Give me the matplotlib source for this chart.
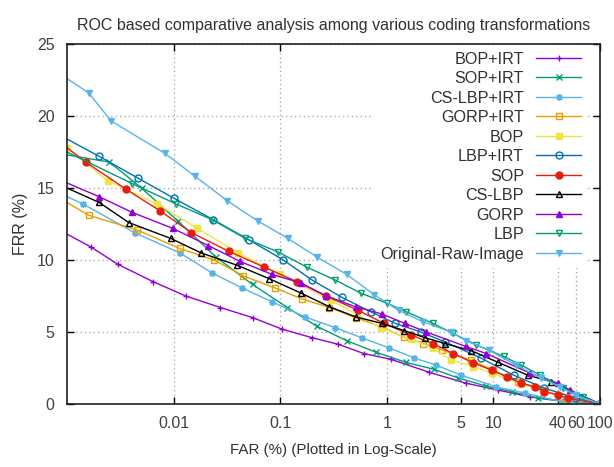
import numpy as np
import matplotlib
matplotlib.use('Agg')
from matplotlib import pyplot as plt
from matplotlib.ticker import FixedLocator, FixedFormatter, NullLocator
from matplotlib.patches import Rectangle

plt.rcParams['font.family'] = ['Liberation Sans', 'DejaVu Sans']

# Series values (FAR in %, FRR in %)
bop_irt_far = [0.001, 0.00168, 0.003, 0.0064, 0.013, 0.0275, 0.055, 0.104, 0.2, 0.35, 0.61, 1.1, 2.5, 5.5, 11, 22, 45, 100]
bop_irt_frr = [11.8, 10.9, 9.7, 8.5, 7.5, 6.7, 6.0, 5.2, 4.6, 4.15, 3.5, 3.1, 2.2, 1.45, 0.97, 0.5, 0.2, 0]

sop_irt_far = [0.001, 0.0025, 0.005, 0.011, 0.025, 0.055, 0.117, 0.22, 0.42, 0.79, 1.5, 2.8, 4.7, 8.5, 15, 26, 50, 100]
sop_irt_frr = [17.3, 16.8, 15.0, 12.7, 10.2, 8.3, 6.7, 5.4, 4.4, 3.6, 2.9, 2.4, 1.8, 1.25, 0.85, 0.4, 0.15, 0]

cslbp_irt_far = [0.001, 0.0014, 0.0043, 0.0114, 0.023, 0.044, 0.084, 0.17, 0.33, 0.58, 1.05, 1.8, 2.9, 5.0, 10.5, 20, 44, 100]
cslbp_irt_frr = [14.4, 13.9, 11.9, 10.5, 9.1, 8.05, 7.1, 6.05, 5.3, 4.6, 3.9, 3.2, 2.7, 2.0, 1.2, 0.75, 0.15, 0]

gorp_irt_far = [0.001, 0.0016, 0.0045, 0.0114, 0.024, 0.045, 0.09, 0.16, 0.29, 0.51, 0.9, 1.44, 2.2, 3.3, 6.1, 10, 17, 29, 44, 100]
gorp_irt_frr = [14.0, 13.1, 12.1, 10.8, 10.0, 8.9, 8.05, 7.3, 6.7, 6.0, 5.35, 4.65, 4.2, 3.75, 3.05, 2.35, 1.55, 0.97, 0.5, 0]

bop_far = [0.001, 0.0024, 0.007, 0.0167, 0.04, 0.1, 0.3, 0.88, 1.68, 2.7, 4.0, 6.5, 9.6, 18, 30, 50, 100]
bop_frr = [17.8, 15.5, 13.9, 12.2, 10.5, 9.0, 7.2, 5.3, 4.5, 3.9, 3.05, 2.6, 2.15, 1.4, 0.9, 0.4, 0]

lbp_irt_far = [0.001, 0.002, 0.0046, 0.01, 0.0235, 0.051, 0.107, 0.2, 0.38, 0.71, 1.2, 2.08, 3.55, 7.6, 15.5, 30, 60, 100]
lbp_irt_frr = [18.4, 17.2, 15.7, 14.3, 12.8, 11.4, 10.0, 8.6, 7.4, 6.4, 5.6, 5.0, 4.3, 3.2, 2.0, 1.1, 0.4, 0]

sop_far = [0.001, 0.0015, 0.0036, 0.0075, 0.0147, 0.033, 0.071, 0.143, 0.27, 0.54, 0.94, 1.68, 2.7, 4.2, 6.5, 9.6, 13.3, 18, 24.6, 30, 40, 50, 100]
sop_frr = [17.8, 16.8, 14.9, 13.4, 11.9, 10.6, 9.5, 8.5, 7.5, 6.5, 5.6, 4.8, 4.2, 3.5, 2.85, 2.35, 1.9, 1.45, 1.2, 0.85, 0.65, 0.4, 0]

cslbp_far = [0.001, 0.002, 0.0038, 0.0094, 0.018, 0.039, 0.079, 0.157, 0.29, 0.51, 0.9, 1.45, 2.3, 3.5, 6.2, 11, 21, 35, 100]
cslbp_frr = [15.0, 14.0, 12.6, 11.5, 10.5, 9.65, 8.7, 7.7, 6.75, 6.05, 5.6, 5.1, 4.6, 4.2, 3.7, 2.9, 2.0, 1.55, 0]

gorp_far = [0.001, 0.002, 0.0041, 0.0098, 0.0212, 0.042, 0.084, 0.157, 0.27, 0.51, 0.9, 1.47, 2.35, 5.5, 8.6, 22, 40, 52, 100]
gorp_frr = [15.35, 14.4, 13.3, 12.2, 11.0, 9.9, 9.0, 8.4, 7.5, 6.75, 6.25, 5.6, 5.0, 4.0, 3.5, 2.15, 1.45, 0.97, 0]

lbp_far = [0.001, 0.0041, 0.0105, 0.023, 0.047, 0.096, 0.178, 0.33, 0.57, 1.0, 1.53, 2.7, 4.2, 6.9, 12.5, 18.2, 27.6, 45, 70, 100]
lbp_frr = [17.5, 15.3, 13.9, 12.8, 11.5, 10.55, 9.5, 8.6, 7.7, 7.0, 6.4, 5.6, 4.9, 4.1, 3.3, 2.7, 2.0, 1.1, 0.5, 0]

raw_far = [0.001, 0.0016, 0.0026, 0.0083, 0.016, 0.032, 0.062, 0.118, 0.222, 0.42, 0.76, 1.29, 2.2, 4.0, 5.5, 9, 16.4, 28, 42, 59, 100]
raw_frr = [22.6, 21.6, 19.65, 17.4, 15.8, 14.1, 12.7, 11.5, 10.2, 9.0, 7.6, 6.5, 5.7, 5.0, 4.4, 3.75, 2.7, 1.8, 1.2, 0.6, 0]

x_ticks = [0.01, 0.1, 1, 5, 10, 40, 60, 100]
x_tick_labels = ['0.01', '0.1', '1', '5', '10', '40', '60', '100']
y_ticks = [0, 5, 10, 15, 20, 25]

# gnuplot default colour / point cycle
series = [
    ('BOP+IRT', bop_irt_far, bop_irt_frr, '#9400d3', '+', True),
    ('SOP+IRT', sop_irt_far, sop_irt_frr, '#009e73', 'x', True),
    ('CS-LBP+IRT', cslbp_irt_far, cslbp_irt_frr, '#56b4e9', (8, 2, 0), True),
    ('GORP+IRT', gorp_irt_far, gorp_irt_frr, '#e69f00', 's', False),
    ('BOP', bop_far, bop_frr, '#f0e442', 's', True),
    ('LBP+IRT', lbp_irt_far, lbp_irt_frr, '#0072b2', 'o', False),
    ('SOP', sop_far, sop_frr, '#e51e10', 'o', True),
    ('CS-LBP', cslbp_far, cslbp_frr, '#000000', '^', False),
    ('GORP', gorp_far, gorp_frr, '#9400d3', '^', True),
    ('LBP', lbp_far, lbp_frr, '#009e73', 'v', False),
    ('Original-Raw-Image', raw_far, raw_frr, '#56b4e9', 'v', True),
]

fig = plt.figure(figsize=(6.14, 4.67), dpi=100)
ax = fig.add_axes([67 / 614, 1 - 404 / 467, 533 / 614, 360 / 467])

for name, far, frr, col, mk, filled in series:
    mev = slice(0, None) if name == 'BOP' else slice(1, None)
    ax.plot(far, frr, color=col, lw=1.0, marker=mk, markersize=5,
            markerfacecolor=col if filled else 'none', markeredgecolor=col,
            markeredgewidth=1.0, markevery=mev, label=name, clip_on=True)

ax.set_xscale('log')
ax.set_xlim(0.001, 100)
ax.set_ylim(0, 25)
ax.xaxis.set_major_locator(FixedLocator(x_ticks))
ax.xaxis.set_major_formatter(FixedFormatter(x_tick_labels))
ax.xaxis.set_minor_locator(NullLocator())
ax.set_yticks(y_ticks)

ax.tick_params(direction='in', top=True, right=True, length=5, width=1,
               labelsize=11.5, colors='#000000', labelcolor='#404040', pad=9)
ax.grid(True, color='#a0a0a0', linestyle=(0, (1, 2.5)), linewidth=0.9)
for sp in ax.spines.values():
    sp.set_linewidth(1.2)
    sp.set_color('#202020')

# white key area hiding the grid, like gnuplot's opaque key
ax.add_patch(Rectangle((0.527, 0.42), 0.473, 0.58, transform=ax.transAxes,
                       facecolor='white', edgecolor='none', zorder=1))

ax.set_title('ROC based comparative analysis among various coding transformations',
             fontsize=11.5, color='#303030', pad=10)
ax.set_xlabel('FAR (%) (Plotted in Log-Scale)', fontsize=10.9, color='#303030', labelpad=8)
ax.set_ylabel('FRR (%)', fontsize=11.5, color='#303030', labelpad=6)

leg = ax.legend(loc='upper right', bbox_to_anchor=(0.977, 0.997), markerfirst=False,
                fontsize=11.6, handlelength=2.8, labelspacing=0.28, borderaxespad=0,
                handletextpad=0.75, borderpad=0.4, frameon=True, fancybox=False)
leg.get_frame().set_edgecolor('none')
leg.get_frame().set_facecolor('white')
leg.get_frame().set_alpha(1)
for t in leg.get_texts():
    t.set_color('#303030')

fig.savefig('out.png', dpi=100)
